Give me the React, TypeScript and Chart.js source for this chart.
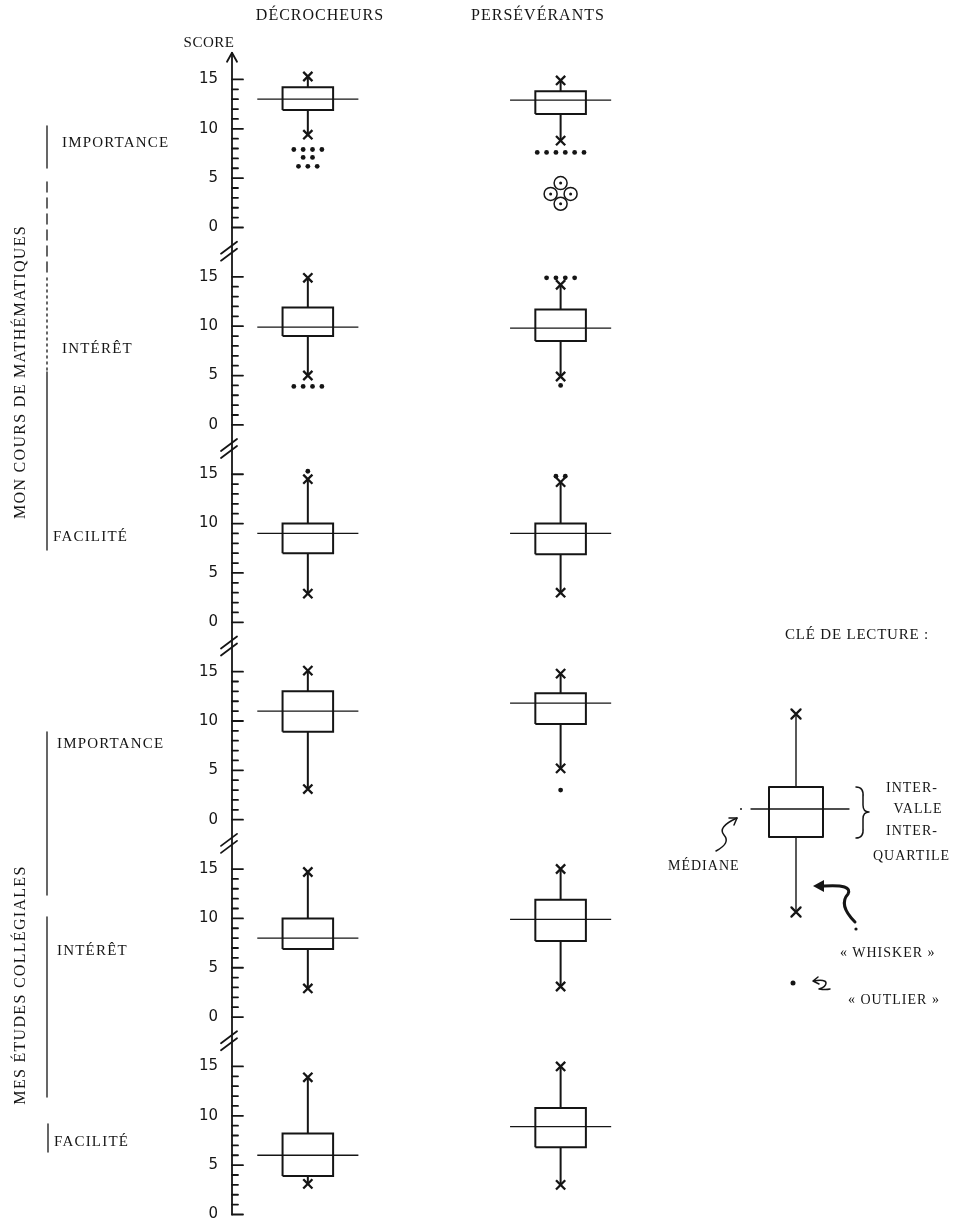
import React, { useEffect, useRef } from "react";
import { Chart, registerables } from "chart.js";
Chart.register(...registerables);

// ---------- DATA ----------
const groups = ["DÉCROCHEURS", "PERSÉVÉRANTS"];
const sections = ["MON COURS DE MATHÉMATIQUES", "MES ÉTUDES COLLÉGIALES"];
const panelLabels = ["IMPORTANCE", "INTÉRÊT", "FACILITÉ", "IMPORTANCE", "INTÉRÊT", "FACILITÉ"];
const scoreTicks = [0, 5, 10, 15];
const scoreMax = 15;

// [panel][group]  group 0 = décrocheurs, 1 = persévérants
const whiskerLow = [[9.4, 8.8], [5.0, 4.9], [2.9, 3.0], [3.1, 5.2], [2.9, 3.1], [3.1, 3.0]];
const quartile1 = [[11.9, 11.5], [9.0, 8.5], [7.0, 6.9], [8.9, 9.7], [6.9, 7.7], [3.9, 6.8]];
const medians = [[13.0, 12.9], [9.9, 9.8], [9.0, 9.0], [11.0, 11.8], [8.0, 9.9], [6.0, 8.9]];
const quartile3 = [[14.2, 13.8], [11.9, 11.7], [10.0, 10.0], [13.0, 12.8], [10.0, 11.9], [8.2, 10.8]];
const whiskerHigh = [[15.3, 14.9], [14.9, 14.2], [14.5, 14.2], [15.1, 14.8], [14.7, 15.0], [13.9, 15.0]];

// outliers: [panel, group, score, number of students]
const outlierRows: [number, number, number, number][] = [
  [0, 0, 7.9, 4], [0, 0, 7.1, 2], [0, 0, 6.2, 3],
  [0, 1, 7.6, 6],
  [1, 0, 3.9, 4],
  [1, 1, 14.9, 4], [1, 1, 4.0, 1],
  [2, 0, 15.3, 1],
  [2, 1, 14.8, 2],
  [3, 1, 3.0, 1],
];
// circled (far) outliers: [panel, group, score, count]
const farOutlierRows: [number, number, number, number][] = [
  [0, 1, 4.5, 1], [0, 1, 3.4, 2], [0, 1, 2.4, 1],
];

const keyTitle = "CLÉ DE LECTURE :";
const keyIqrLabel = ["INTER-", "VALLE", "INTER-", "QUARTILE"];
const keyMedianLabel = "MÉDIANE";
const keyWhiskerLabel = "« WHISKER »";
const keyOutlierLabel = "« OUTLIER »";

// ---------- STYLE ----------
const INK = "#151515";
const PANEL_SPAN = 20; // score units given to each panel on the shared axis
const PANEL_LOW = -0.6;
const BOX_HALF = 0.1;
const MEDIAN_HALF = 0.2;
const DOT_GAP = 0.037;
const RING_GAP = 0.079;
const N = panelLabels.length;
const panelBase = (p: number) => (N - 1 - p) * PANEL_SPAN;

function spread(cx: number, count: number, gap: number) {
  const xs: number[] = [];
  for (let i = 0; i < count; i++) xs.push(cx + (i - (count - 1) / 2) * gap);
  return xs;
}

function buildDatasets() {
  const ds: any[] = [];
  const line = (data: any[], width: number) => ({
    data, showLine: true, borderColor: INK, borderWidth: width, pointRadius: 0,
    pointHoverRadius: 0, fill: false, tension: 0, clip: false,
  });
  for (let p = 0; p < N; p++) {
    for (let g = 0; g < groups.length; g++) {
      const cx = g + 1;
      const Y = (v: number) => panelBase(p) + v;
      const q1 = quartile1[p][g], q3 = quartile3[p][g], md = medians[p][g];
      const lo = whiskerLow[p][g], hi = whiskerHigh[p][g];
      ds.push(line([
        { x: cx - BOX_HALF, y: Y(q1) }, { x: cx + BOX_HALF, y: Y(q1) },
        { x: cx + BOX_HALF, y: Y(q3) }, { x: cx - BOX_HALF, y: Y(q3) },
        { x: cx - BOX_HALF, y: Y(q1) },
      ], 2));
      ds.push(line([{ x: cx - MEDIAN_HALF, y: Y(md) }, { x: cx + MEDIAN_HALF, y: Y(md) }], 1.3));
      ds.push(line([{ x: cx, y: Y(q3) }, { x: cx, y: Y(hi) }], 2));
      ds.push(line([{ x: cx, y: Y(q1) }, { x: cx, y: Y(lo) }], 2));
      ds.push({
        data: [{ x: cx, y: Y(hi) }, { x: cx, y: Y(lo) }], showLine: false,
        pointStyle: "crossRot", pointRadius: 6.5, pointHoverRadius: 6.5,
        borderWidth: 2.3, borderColor: INK, clip: false,
      });
    }
  }
  const dots: any[] = [];
  outlierRows.forEach(([p, g, v, n]) => {
    spread(g + 1, n, DOT_GAP).forEach((x) => dots.push({ x, y: panelBase(p) + v }));
  });
  ds.push({
    data: dots, showLine: false, pointStyle: "circle", pointRadius: 2.4,
    pointHoverRadius: 2.4, backgroundColor: INK, borderWidth: 0, clip: false,
  });
  const rings: any[] = [];
  farOutlierRows.forEach(([p, g, v, n]) => {
    spread(g + 1, n, RING_GAP).forEach((x) => rings.push({ x, y: panelBase(p) + v }));
  });
  ds.push({
    data: rings, showLine: false, pointStyle: "circle", pointRadius: 6.5,
    pointHoverRadius: 6.5, backgroundColor: "rgba(0,0,0,0)", borderColor: INK,
    borderWidth: 1.5, clip: false,
  });
  ds.push({
    data: rings, showLine: false, pointStyle: "circle", pointRadius: 1.5,
    pointHoverRadius: 1.5, backgroundColor: INK, borderWidth: 0, clip: false,
  });
  return ds;
}

const decorPlugin = {
  id: "decor",
  afterDatasetsDraw(chart: any) {
    const { ctx } = chart;
    const ys = chart.scales.y;
    const ax = chart.chartArea.left;
    ctx.save();
    ctx.strokeStyle = INK;
    ctx.fillStyle = INK;
    ctx.lineCap = "round";
    ctx.lineJoin = "round";

    // score axis
    ctx.lineWidth = 1.8;
    const topY = ys.getPixelForValue(panelBase(0) + 17.7);
    const botY = ys.getPixelForValue(panelBase(N - 1));
    ctx.beginPath();
    ctx.moveTo(ax, topY);
    ctx.lineTo(ax, botY);
    ctx.stroke();
    ctx.beginPath();
    ctx.moveTo(ax - 5, topY + 9);
    ctx.lineTo(ax, topY);
    ctx.lineTo(ax + 5, topY + 9);
    ctx.stroke();
    for (let p = 0; p < N; p++) {
      for (let v = 0; v <= scoreMax; v++) {
        const py = ys.getPixelForValue(panelBase(p) + v);
        const len = v % 5 === 0 ? 11 : 6;
        ctx.beginPath();
        ctx.moveTo(ax, py);
        ctx.lineTo(ax + len, py);
        ctx.stroke();
      }
      if (p > 0) {
        const yb = ys.getPixelForValue(panelBase(p) + 17.6);
        for (const d of [-3.5, 3.5]) {
          ctx.beginPath();
          ctx.moveTo(ax - 11, yb + 6 + d);
          ctx.lineTo(ax + 5, yb - 6 + d);
          ctx.stroke();
        }
      }
    }

    // section brackets on the left
    const seg = (x: number, y1: number, y2: number, dash: number[]) => {
      ctx.setLineDash(dash);
      ctx.beginPath();
      ctx.moveTo(x, y1);
      ctx.lineTo(x, y2);
      ctx.stroke();
      ctx.setLineDash([]);
    };
    ctx.lineWidth = 1.3;
    seg(47, 126, 168, []);
    seg(47, 182, 272, [10, 6]);
    seg(47, 278, 372, [2, 4]);
    seg(47, 372, 550, []);
    seg(47, 732, 895, []);
    seg(47, 917, 1097, []);
    seg(48, 1124, 1152, []);

    // ----- reading key -----
    const kx = 796;
    ctx.lineWidth = 1.4;
    ctx.beginPath();
    ctx.moveTo(kx, 714); ctx.lineTo(kx, 787);
    ctx.moveTo(kx, 837); ctx.lineTo(kx, 912);
    ctx.stroke();
    ctx.lineWidth = 2;
    ctx.strokeRect(769, 787, 54, 50);
    ctx.lineWidth = 1.3;
    ctx.beginPath();
    ctx.moveTo(751, 809); ctx.lineTo(849, 809);
    ctx.stroke();
    ctx.beginPath(); ctx.arc(741, 809, 1, 0, Math.PI * 2); ctx.fill();
    ctx.lineWidth = 2.2;
    for (const cy of [714, 912]) {
      ctx.beginPath();
      ctx.moveTo(kx - 4.6, cy - 4.6); ctx.lineTo(kx + 4.6, cy + 4.6);
      ctx.moveTo(kx + 4.6, cy - 4.6); ctx.lineTo(kx - 4.6, cy + 4.6);
      ctx.stroke();
    }
    // brace
    ctx.lineWidth = 1.5;
    ctx.beginPath();
    ctx.moveTo(856, 787);
    ctx.quadraticCurveTo(864, 787, 863, 797);
    ctx.lineTo(863, 805);
    ctx.quadraticCurveTo(863, 812, 869, 812);
    ctx.quadraticCurveTo(863, 812, 863, 819);
    ctx.lineTo(863, 828);
    ctx.quadraticCurveTo(864, 838, 856, 838);
    ctx.stroke();
    // median squiggle arrow
    ctx.lineWidth = 1.5;
    ctx.beginPath();
    ctx.moveTo(716, 851);
    ctx.quadraticCurveTo(731, 843, 724, 835);
    ctx.quadraticCurveTo(717, 827, 737, 818);
    ctx.stroke();
    ctx.beginPath();
    ctx.moveTo(729, 818); ctx.lineTo(737, 818); ctx.lineTo(734, 825);
    ctx.stroke();
    // whisker hook arrow
    ctx.lineWidth = 3;
    ctx.beginPath();
    ctx.moveTo(855, 922);
    ctx.quadraticCurveTo(838, 905, 848, 894);
    ctx.quadraticCurveTo(853, 884, 824, 886);
    ctx.stroke();
    ctx.beginPath();
    ctx.moveTo(813, 886); ctx.lineTo(824, 880); ctx.lineTo(824, 892); ctx.closePath();
    ctx.fill();
    ctx.beginPath(); ctx.arc(856, 929, 1.6, 0, Math.PI * 2); ctx.fill();
    // outlier sample + small arrow
    ctx.beginPath(); ctx.arc(793, 983, 2.5, 0, Math.PI * 2); ctx.fill();
    ctx.lineWidth = 1.5;
    ctx.beginPath();
    ctx.moveTo(818, 977); ctx.lineTo(813, 981); ctx.lineTo(819, 984);
    ctx.moveTo(813, 981);
    ctx.quadraticCurveTo(826, 979, 826, 983);
    ctx.quadraticCurveTo(826, 987, 819, 989);
    ctx.quadraticCurveTo(826, 990, 830, 989);
    ctx.stroke();
    ctx.restore();
  },
};

const serif = '"Liberation Serif", "Times New Roman", serif';

function Label(props: {
  x: number; y: number; text: string; anchor?: "left" | "center"; size?: number;
  ls?: number; rotate?: boolean;
}) {
  const { x, y, text, anchor = "left", size = 16, ls = 1, rotate = false } = props;
  const tx = anchor === "center" ? "-50%" : "0";
  return (
    <div
      style={{
        position: "absolute", left: x, top: y, whiteSpace: "nowrap", fontFamily: serif,
        fontSize: size, letterSpacing: ls, lineHeight: 1, color: INK,
        transform: `translate(${tx}, -50%)${rotate ? " rotate(-90deg)" : ""}`,
      }}
    >
      {text}
    </div>
  );
}

export default function App() {
  const ref = useRef<HTMLCanvasElement>(null);
  useEffect(() => {
    if (!ref.current) return;
    const tickValues: number[] = [];
    for (let p = 0; p < N; p++) scoreTicks.forEach((t) => tickValues.push(panelBase(p) + t));
    const chart = new Chart(ref.current, {
      type: "scatter",
      data: { datasets: buildDatasets() },
      options: {
        responsive: false,
        animation: false,
        events: [],
        layout: { autoPadding: false, padding: { left: 192, top: 36, right: 6, bottom: 0.6 } },
        plugins: { legend: { display: false }, tooltip: { enabled: false }, title: { display: false } },
        scales: {
          x: { type: "linear", display: false, min: 0.7, max: 3.58 },
          y: {
            type: "linear",
            position: "left",
            min: PANEL_LOW,
            max: (N - 1) * PANEL_SPAN + PANEL_SPAN + PANEL_LOW,
            grid: { display: false, drawTicks: false },
            border: { display: false },
            afterBuildTicks: (s: any) => { s.ticks = tickValues.map((v) => ({ value: v })); },
            afterFit: (s: any) => { s.width = 40; s.paddingTop = 0; s.paddingBottom = 0; },
            ticks: {
              autoSkip: false,
              padding: 14,
              color: INK,
              font: { family: '"DejaVu Sans", sans-serif', size: 15, lineHeight: 0.1 },
              callback: (v: any) => String(Math.round(Number(v)) % PANEL_SPAN),
            },
          },
        },
      } as any,
      plugins: [decorPlugin],
    });
    return () => chart.destroy();
  }, []);

  const rowY = [142, 348, 536, 743, 950, 1141];
  const rowX = [62, 62, 53, 57, 57, 54];
  return (
    <div style={{ position: "absolute", left: 0, top: 0, width: 966, height: 1221, overflow: "hidden", background: "#fff" }}>
      <canvas ref={ref} width={966} height={1221} style={{ position: "absolute", left: 0, top: 0 }} />
      <Label x={320} y={15} text={groups[0]} anchor="center" />
      <Label x={538} y={15} text={groups[1]} anchor="center" />
      <Label x={209} y={42} text="SCORE" anchor="center" size={15} ls={0.5} />
      {panelLabels.map((t, i) => (
        <Label key={i} x={rowX[i]} y={rowY[i]} text={t} size={15} ls={1.2} />
      ))}
      <Label x={20} y={372} text={sections[0]} anchor="center" size={16} ls={1.3} rotate />
      <Label x={20} y={985} text={sections[1]} anchor="center" size={16} ls={1.3} rotate />
      <Label x={785} y={634} text={keyTitle} size={15} ls={0.8} />
      <Label x={886} y={788} text={keyIqrLabel[0]} size={14} ls={1} />
      <Label x={918} y={809} text={keyIqrLabel[1]} anchor="center" size={14} ls={1} />
      <Label x={886} y={831} text={keyIqrLabel[2]} size={14} ls={1} />
      <Label x={873} y={856} text={keyIqrLabel[3]} size={14} ls={1} />
      <Label x={668} y={866} text={keyMedianLabel} size={14} ls={1} />
      <Label x={840} y={953} text={keyWhiskerLabel} size={14} ls={1} />
      <Label x={848} y={1000} text={keyOutlierLabel} size={14} ls={1} />
    </div>
  );
}
